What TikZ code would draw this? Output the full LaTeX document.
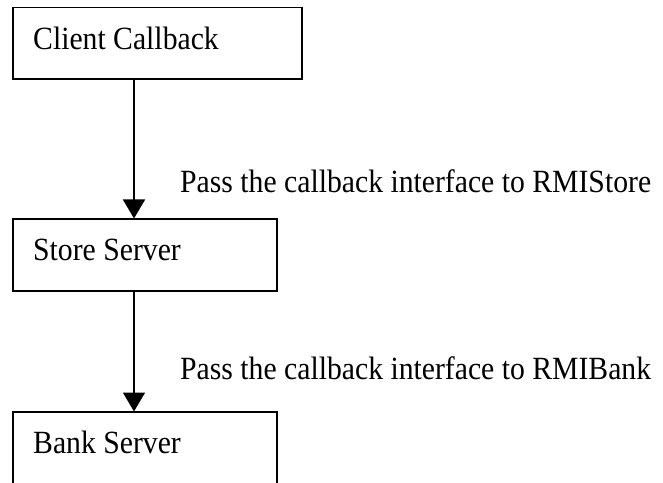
\documentclass[tikz,border=0pt]{standalone}
\usepackage{fontspec}
\setmainfont{Liberation Serif}
\usetikzlibrary{arrows.meta,calc}
\newcommand{\tallT}[1]{\scalebox{0.99}[1.08]{#1}}
\begin{document}
\begin{tikzpicture}[x=1pt,y=1pt,
  box/.style={draw=black, line width=1.6pt, rectangle, inner sep=0pt, outer sep=0pt},
  txt/.style={anchor=base west, inner sep=0pt, font=\fontsize{30}{36}\selectfont},
  arr/.style={line width=1.6pt, -{Triangle[width=22pt,length=19pt]}, shorten >=0.5pt}]
\useasboundingbox (0,0) rectangle (663,482);
\clip (0,0) rectangle (663,482);
% boxes
\node[box, minimum width=289pt, minimum height=71.5pt] (a) at (157.5,438.75) {};
\node[box, minimum width=264pt, minimum height=72pt] (b) at (145,227) {};
\node[box, minimum width=264pt, minimum height=84pt] (c) at (145,28) {};
% box texts
\node[txt] (ta) at (33,432.5) {\tallT{Client Callback}};
\node[txt] (tb) at (33,221) {\tallT{Store Server}};
\node[txt] (tc) at (33,29) {\tallT{Bank Server}};
% labels
\node[txt] (l1) at (180,289) {\tallT{Pass the callback interface to RMIStore}};
\node[txt] (l2) at (180,103) {\tallT{Pass the callback interface to RMIBank}};
% arrows
\draw[arr] ([xshift=121pt]a.south west) -- ([xshift=121pt]b.north west);
\draw[arr] ([xshift=121pt]b.south west) -- ([xshift=121pt]c.north west);
\end{tikzpicture}
\end{document}
